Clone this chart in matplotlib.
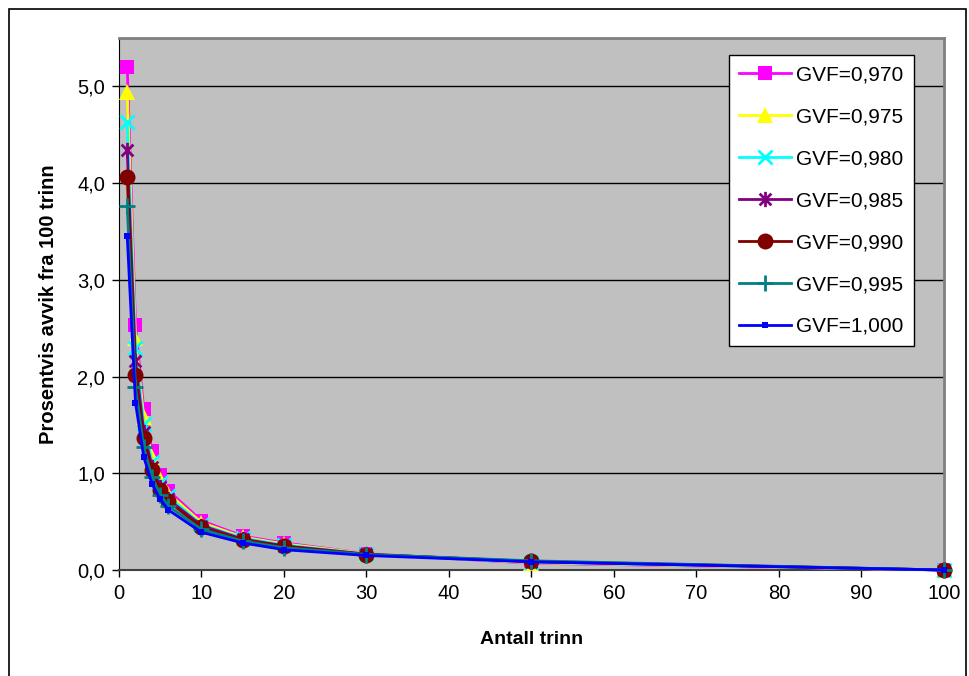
import matplotlib
matplotlib.use("Agg")
import matplotlib.pyplot as plt
from matplotlib.path import Path
from matplotlib.patches import Rectangle
from matplotlib.ticker import FuncFormatter

plt.rcParams["font.family"] = ["Liberation Sans", "DejaVu Sans"]

# number of stages and percent deviation from the 100-stage result
stages = [1, 2, 3, 4, 5, 6, 10, 15, 20, 30, 50, 100]
gvf_labels = ["GVF=0,970", "GVF=0,975", "GVF=0,980", "GVF=0,985",
              "GVF=0,990", "GVF=0,995", "GVF=1,000"]
dev_0970 = [5.20, 2.53, 1.66, 1.23, 0.98, 0.82, 0.51, 0.35, 0.28, 0.17, 0.07, 0.0]
dev_0975 = [4.94, 2.40, 1.58, 1.17, 0.94, 0.79, 0.49, 0.34, 0.27, 0.17, 0.075, 0.0]
dev_0980 = [4.63, 2.29, 1.51, 1.12, 0.90, 0.76, 0.47, 0.33, 0.26, 0.165, 0.08, 0.0]
dev_0985 = [4.34, 2.16, 1.43, 1.07, 0.86, 0.73, 0.46, 0.32, 0.25, 0.165, 0.085, 0.0]
dev_0990 = [4.06, 2.02, 1.36, 1.03, 0.83, 0.71, 0.44, 0.31, 0.245, 0.16, 0.09, 0.0]
dev_0995 = [3.76, 1.89, 1.27, 0.96, 0.78, 0.66, 0.42, 0.30, 0.23, 0.16, 0.095, 0.0]
dev_1000 = [3.45, 1.73, 1.17, 0.89, 0.73, 0.62, 0.39, 0.28, 0.21, 0.15, 0.085, 0.0]
series = [dev_0970, dev_0975, dev_0980, dev_0985, dev_0990, dev_0995, dev_1000]

# Excel-style asterisk: an x with a vertical bar through it
asterisk = Path([(-1, -1), (1, 1), (-1, 1), (1, -1), (0, -1.3), (0, 1.3)],
                [Path.MOVETO, Path.LINETO, Path.MOVETO, Path.LINETO,
                 Path.MOVETO, Path.LINETO])

styles = [
    dict(color="#FF00FF", marker="s", ms=10.5, mew=0),
    dict(color="#FFFF00", marker="^", ms=11.5, mew=0),
    dict(color="#00FFFF", marker="x", ms=10, mew=2),
    dict(color="#800080", marker=asterisk, ms=11, mew=2),
    dict(color="#800000", marker="o", ms=11.5, mew=0),
    dict(color="#008080", marker="+", ms=12, mew=2),
    dict(color="#0000FF", marker="s", ms=5, mew=0),
]

fig = plt.figure(figsize=(9.69, 6.76), dpi=100)
ax = fig.add_axes([0.1228, 0.1568, 0.8514, 0.787])
ax.set_facecolor("#C0C0C0")

for i, (ys, lab, st) in enumerate(zip(series, gvf_labels, styles)):
    ax.plot(stages, ys, label=lab, lw=2, zorder=3 + i, clip_on=False, **st)

ax.set_xlim(0, 100)
ax.set_ylim(0, 5.5)
ax.set_xticks(range(0, 101, 10))
ax.set_yticks([0, 1, 2, 3, 4, 5])
ax.yaxis.set_major_formatter(FuncFormatter(lambda v, p: f"{v:.1f}".replace(".", ",")))
ax.grid(axis="y", color="black", lw=1)
ax.set_axisbelow(True)
ax.tick_params(labelsize=14.5, direction="out", length=5, width=1, color="black", pad=5)

for s in ("top", "right"):
    ax.spines[s].set_color("#808080")
    ax.spines[s].set_linewidth(2)
ax.spines["left"].set_color("black")
ax.spines["bottom"].set_color("#404040")
ax.spines["bottom"].set_linewidth(1.5)

ax.set_xlabel("Antall trinn", fontsize=14, fontweight="bold", labelpad=20)
ax.set_ylabel("Prosentvis avvik fra 100 trinn", fontsize=14.5, fontweight="bold", labelpad=14)

leg = ax.legend(loc="upper left", bbox_to_anchor=(0.739, 0.968), fontsize=15,
                frameon=True, fancybox=False, edgecolor="black", framealpha=1,
                handlelength=2.5, handletextpad=0.25, labelspacing=1.1,
                borderpad=0.5, borderaxespad=0)
leg.get_frame().set_linewidth(1)

# chart-area border
fig.patches.append(Rectangle((9 / 969, -0.01), 957 / 969, 1 - 9 / 676 + 0.01,
                             transform=fig.transFigure, fill=False,
                             edgecolor="black", lw=1.2))

fig.savefig("out.png", dpi=100)
